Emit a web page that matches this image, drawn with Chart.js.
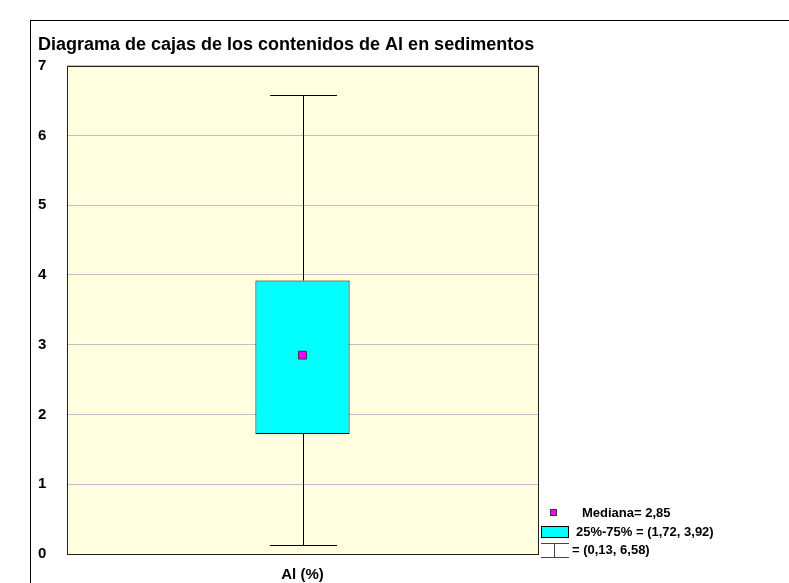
<!DOCTYPE html>
<html>
<head>
<meta charset="utf-8">
<script src="https://cdn.jsdelivr.net/npm/chart.js@4/dist/chart.umd.min.js"></script>
<style>
  html,body{margin:0;padding:0;background:#fff;}
  body{width:789px;height:583px;position:relative;overflow:hidden;font-family:Arial,"Liberation Sans",sans-serif;}
  #frame{position:absolute;left:30px;top:20px;width:800px;height:600px;border-left:1px solid #000;border-top:1px solid #000;}
  #wrap{position:absolute;left:0;top:0;width:789px;height:583px;}
  .lt{position:absolute;font-weight:bold;font-size:13px;line-height:15px;color:#000;white-space:nowrap;}
  .sw{position:absolute;box-sizing:border-box;}
</style>
</head>
<body>
<div id="frame"></div>
<div id="wrap"><canvas id="c"></canvas></div>

<div class="sw" style="left:550px;top:509px;width:7px;height:7px;background:#ff00ff;border:1px solid #333;"></div>
<div class="lt" id="lg-med" style="left:582px;top:505px;"></div>
<div class="sw" style="left:541px;top:526px;width:28px;height:12px;background:#00ffff;border:1px solid #000;"></div>
<div class="lt" id="lg-box" style="left:576px;top:524px;"></div>
<div class="sw" style="left:541px;top:543px;width:28px;height:1px;background:#444;"></div>
<div class="sw" style="left:554px;top:543px;width:1px;height:14px;background:#444;"></div>
<div class="sw" style="left:541px;top:557px;width:28px;height:1px;background:#444;"></div>
<div class="lt" id="lg-whisk" style="left:572px;top:542px;"></div>

<script>
// data
const categories = ['Al (%)'];
const q1 = [1.72];
const q3 = [3.92];
const medians = [2.85];
const whiskLow = [0.13];
const whiskHigh = [6.58];
const yTicks = [0, 1, 2, 3, 4, 5, 6, 7];

const fmt = (v)=>String(v).replace('.', ',');
document.getElementById('lg-med').textContent = 'Mediana= ' + fmt(medians[0]);
document.getElementById('lg-box').textContent = '25%-75% = (' + fmt(q1[0]) + ', ' + fmt(q3[0]) + ')';
document.getElementById('lg-whisk').textContent = '= (' + fmt(whiskLow[0]) + ', ' + fmt(whiskHigh[0]) + ')';

const plotBg = {
  id:'plotBg',
  beforeDraw(chart){
    const {ctx, chartArea:a} = chart;
    ctx.save();
    ctx.fillStyle = '#ffffe0';
    ctx.fillRect(a.left, a.top, a.right - a.left, a.bottom - a.top);
    ctx.restore();
  },
  afterDraw(chart){
    const {ctx, chartArea:a} = chart;
    ctx.save();
    ctx.strokeStyle = '#222';
    ctx.lineWidth = 1;
    ctx.strokeRect(Math.round(a.left) + 0.5, Math.round(a.top) + 0.5, Math.round(a.right - a.left), Math.round(a.bottom - a.top));
    ctx.restore();
  }
};

// whiskers from the box dataset's bar elements, through the y scale
const whiskers = {
  id:'whiskers',
  beforeDatasetsDraw(chart){
    const {ctx} = chart;
    const y = chart.scales.y;
    const meta = chart.getDatasetMeta(1);
    ctx.save();
    ctx.strokeStyle = '#000';
    ctx.lineWidth = 1;
    meta.data.forEach((bar, i)=>{
      const cx = Math.round(bar.x) + 0.5;
      const half = bar.width * 0.355;
      const lo = Math.round(y.getPixelForValue(whiskLow[i])) + 0.5;
      const hi = Math.round(y.getPixelForValue(whiskHigh[i])) + 0.5;
      const b = y.getPixelForValue(q1[i]);
      const t = y.getPixelForValue(q3[i]);
      ctx.beginPath();
      ctx.moveTo(cx, lo); ctx.lineTo(cx, b);
      ctx.moveTo(cx, t); ctx.lineTo(cx, hi);
      ctx.moveTo(cx - half, lo); ctx.lineTo(cx + half, lo);
      ctx.moveTo(cx - half, hi); ctx.lineTo(cx + half, hi);
      ctx.stroke();
    });
    ctx.restore();
  }
};

const bold = (size)=>({ family:'Arial, "Liberation Sans", sans-serif', size, weight:'bold' });

new Chart(document.getElementById('c'), {
  type:'bar',
  data:{
    labels: categories,
    datasets:[
      {
        type:'line',
        label:'Mediana',
        data: medians,
        showLine:false,
        pointStyle:'rect',
        pointRadius:5.5,
        pointHoverRadius:5.5,
        backgroundColor:'#ff00ff',
        borderColor:'#333',
        borderWidth:1,
        order:0
      },
      {
        type:'bar',
        label:'25%-75%',
        data: categories.map((c,i)=>[q1[i], q3[i]]),
        backgroundColor:'#00ffff',
        borderColor:'#000',
        borderWidth:1,
        borderSkipped:false,
        barPercentage:0.2,
        categoryPercentage:1,
        order:1
      }
    ]
  },
  options:{
    responsive:true,
    maintainAspectRatio:false,
    animation:false,
    events:[],
    layout:{ padding:{ left:38, right:251, top:20, bottom:0 } },
    plugins:{
      legend:{ display:false },
      tooltip:{ enabled:false },
      title:{
        display:true,
        text:'Diagrama de cajas de los contenidos de Al en sedimentos',
        align:'start',
        color:'#000',
        font: bold(18),
        padding:{ top:14, bottom:10 }
      }
    },
    scales:{
      x:{
        grid:{ display:false, drawTicks:false },
        border:{ display:false },
        ticks:{ color:'#000', padding:12, font: bold(15) },
        afterFit(s){ s.height = 29; }
      },
      y:{
        min: yTicks[0],
        max: yTicks[yTicks.length - 1],
        afterBuildTicks(s){ s.ticks = yTicks.map(v=>({ value:v })); },
        grid:{ color:'#c0c0c0', lineWidth:1, drawTicks:false },
        border:{ display:false },
        ticks:{ color:'#000', crossAlign:'far', padding:0, font: bold(15) },
        afterFit(s){ s.width = 29; }
      }
    }
  },
  plugins:[plotBg, whiskers]
});
</script>
</body>
</html>
